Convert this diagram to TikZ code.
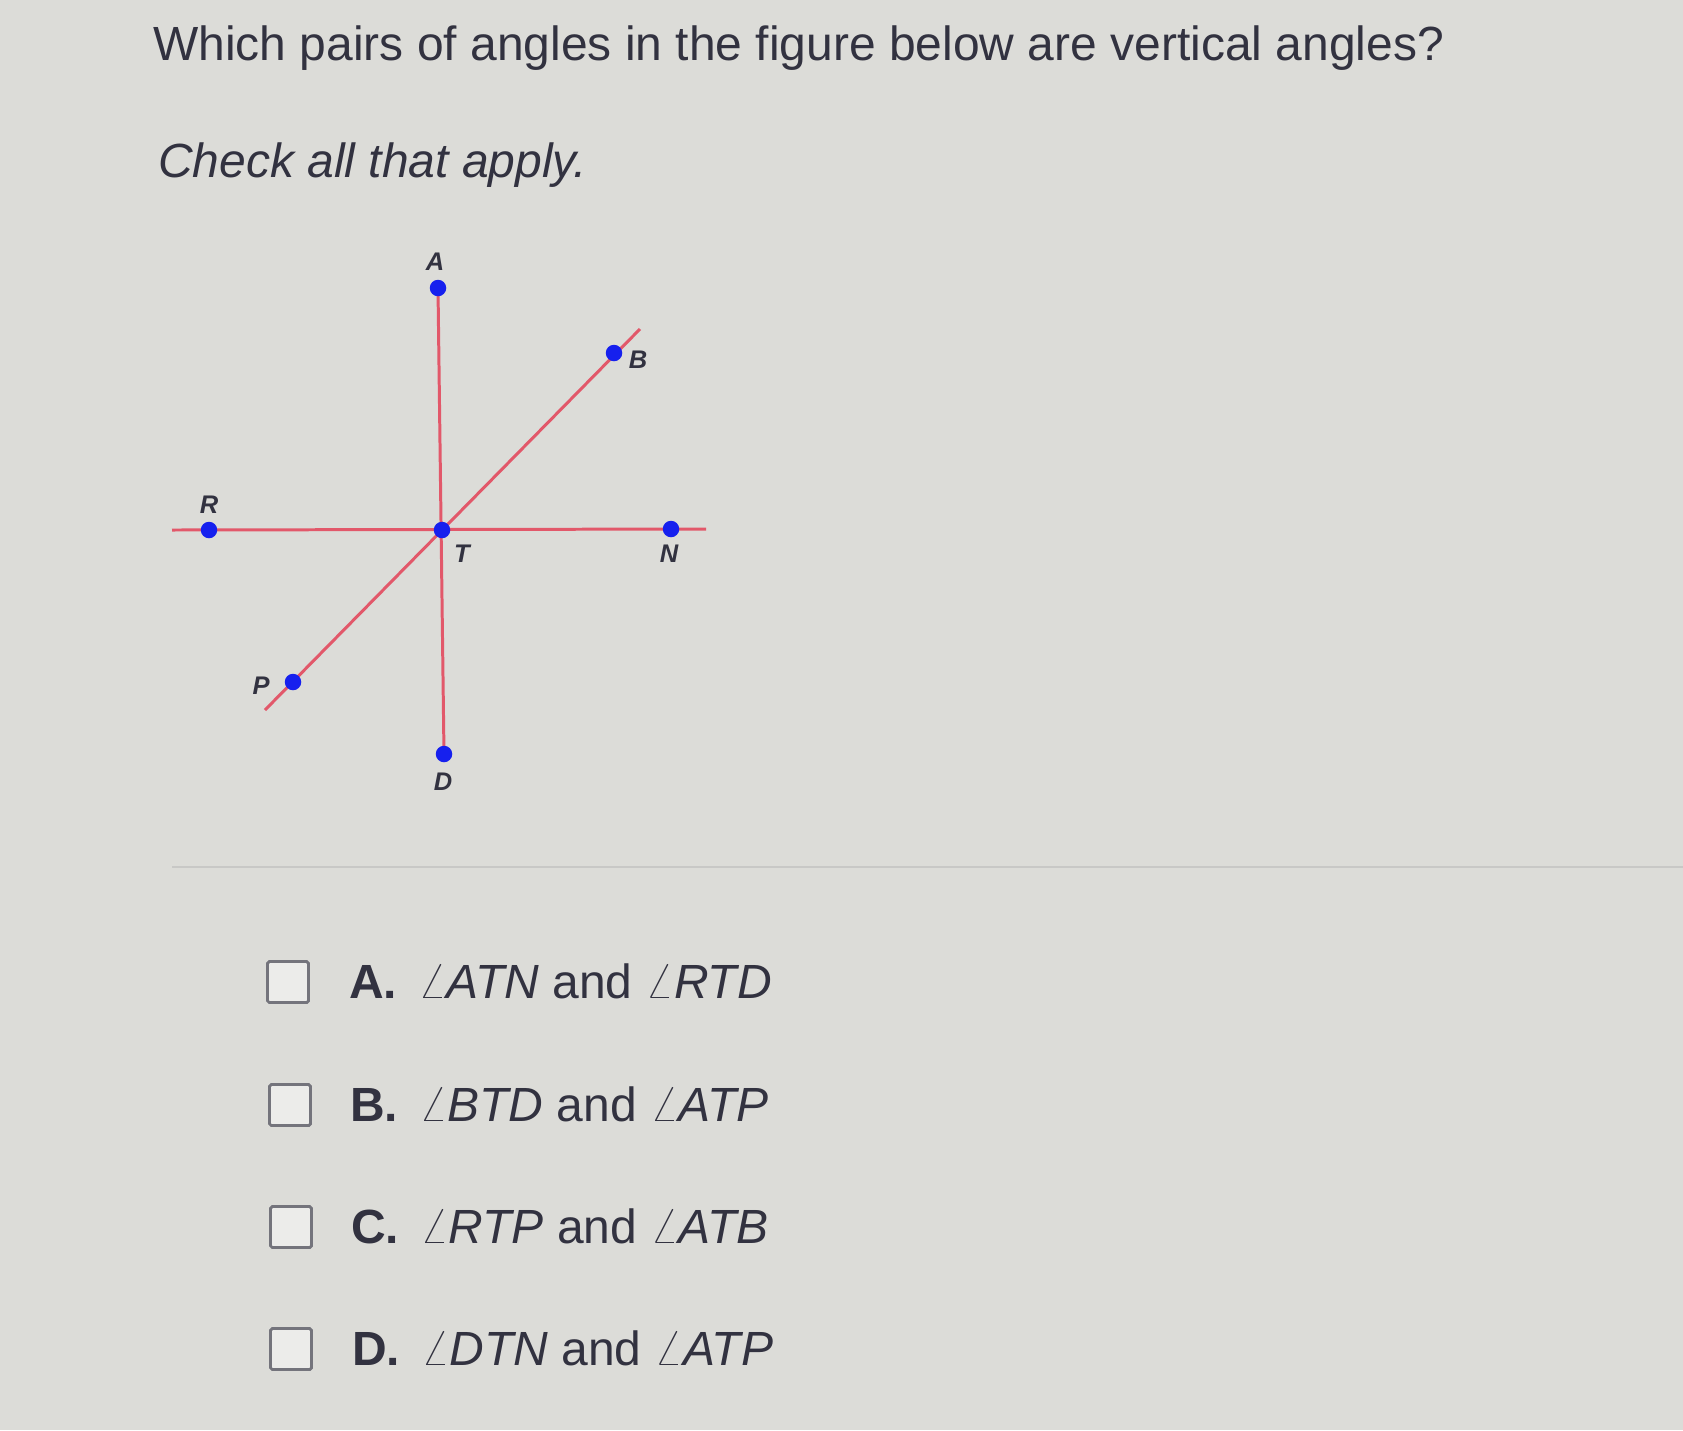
\documentclass[tikz,border=0pt]{standalone}
\usepackage{fontspec}
\setmainfont{Liberation Sans}
\usepackage{tikz}
\usetikzlibrary{positioning}

\definecolor{paper}{RGB}{220,220,216}
\definecolor{ink}{RGB}{50,50,64}
\definecolor{lineRed}{RGB}{226,88,106}
\definecolor{dotBlue}{RGB}{22,32,238}
\definecolor{boxGray}{RGB}{116,116,124}
\definecolor{ruleGray}{RGB}{200,200,198}

\begin{document}
\begin{tikzpicture}[
    x=0.2mm,
    y=-0.2mm,
    point/.style={
        circle,
        fill=dotBlue,
        inner sep=0pt,
        minimum size=3.3mm
    },
    ptlabel/.style={
        inner sep=0pt,
        text=ink,
        font=\fontsize{14.5}{16}\selectfont\bfseries\itshape
    },
    ray/.style={
        draw=lineRed,
        line width=1.7pt
    },
    question/.style={
        anchor=base west,
        inner sep=0pt,
        text=ink,
        font=\fontsize{27.3}{33}\selectfont
    },
    checkbox/.style={
        rectangle,
        draw=boxGray,
        line width=1.6pt,
        rounded corners=1pt,
        fill=paper!55!white,
        minimum size=8.2mm,
        inner sep=0pt
    },
    choice/.style={
        anchor=base west,
        inner sep=0pt,
        text=ink,
        font=\fontsize{27.3}{33}\selectfont
    },
    rule/.style={
        draw=ruleGray,
        line width=0.6pt
    }
]

% Hintergrund
\fill[paper] (0,0) rectangle (1683,1430);
\useasboundingbox (0,0) rectangle (1683,1430);

% Frage
\node[question] (title) at (153,60) {Which pairs of angles in the figure below are vertical angles?};
\node[question, font=\fontsize{27.3}{33}\selectfont\itshape] (check) at (158,177) {Check all that apply.};

% Lage der Punkte
\coordinate (pA) at (438,288);
\coordinate (pB) at (614,353);
\coordinate (pR) at (209,530);
\coordinate (pT) at (442,530);
\coordinate (pN) at (671,529);
\coordinate (pP) at (293,682);
\coordinate (pD) at (444,754);
\coordinate (rEnd) at (172,530);
\coordinate (nEnd) at (706,529);
\coordinate (pEnd) at (265,710);
\coordinate (bEnd) at (640,329);

% Geraden
\draw[ray] (pA) -- (pD);
\draw[ray] (rEnd) -- (nEnd);
\draw[ray] (pEnd) -- (bEnd);

% Punkte
\node[point] (A) at (pA) {};
\node[point] (B) at (pB) {};
\node[point] (R) at (pR) {};
\node[point] (T) at (pT) {};
\node[point] (N) at (pN) {};
\node[point] (P) at (pP) {};
\node[point] (D) at (pD) {};

% Beschriftungen
\node[ptlabel] (labA) at (435,262) {A};
\node[ptlabel] (labB) at (638,360) {B};
\node[ptlabel] (labR) at (209,505) {R};
\node[ptlabel] (labT) at (462,554) {T};
\node[ptlabel] (labN) at (669,554) {N};
\node[ptlabel] (labP) at (261,686) {P};
\node[ptlabel] (labD) at (443,782) {D};

% Trennlinie
\coordinate (sepL) at (172,867);
\coordinate (sepR) at (1683,867);
\draw[rule] (sepL) -- (sepR);

% Antworten
\node[checkbox] (boxA) at (288,982) {};
\node[choice] (optA) at (349,998) {\textbf{A.}\hspace{4.2mm}$\angle$\textit{ATN} and $\angle$\textit{RTD}};

\node[checkbox] (boxB) at (290,1105) {};
\node[choice] (optB) at (350,1121) {\textbf{B.}\hspace{4.2mm}$\angle$\textit{BTD} and $\angle$\textit{ATP}};

\node[checkbox] (boxC) at (291,1227) {};
\node[choice] (optC) at (351,1243) {\textbf{C.}\hspace{4.2mm}$\angle$\textit{RTP} and $\angle$\textit{ATB}};

\node[checkbox] (boxD) at (291,1349) {};
\node[choice] (optD) at (352,1365) {\textbf{D.}\hspace{4.2mm}$\angle$\textit{DTN} and $\angle$\textit{ATP}};

\end{tikzpicture}
\end{document}
